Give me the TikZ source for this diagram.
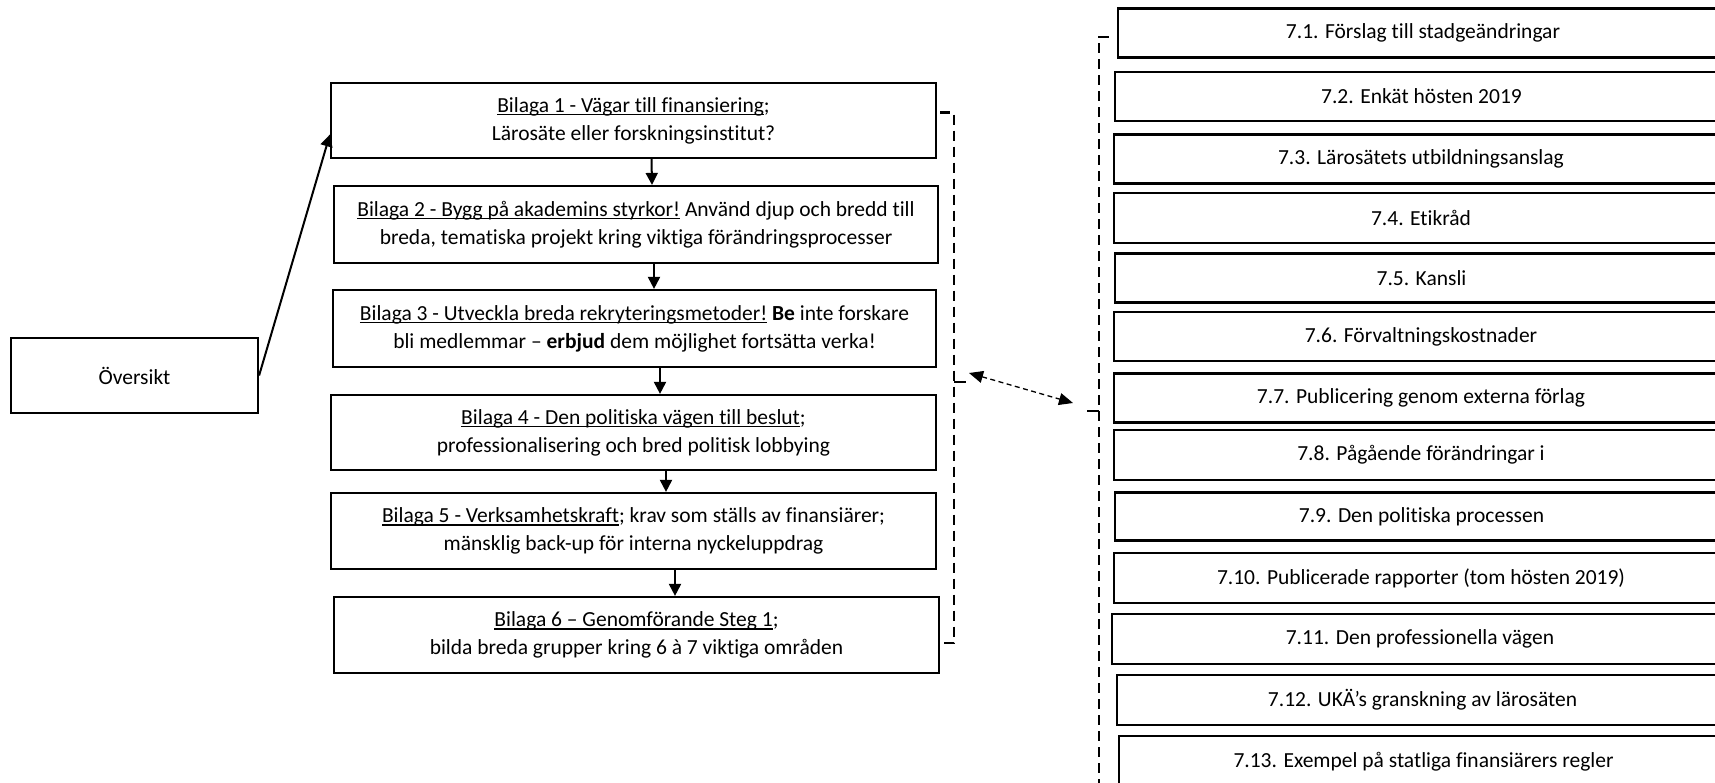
\documentclass[tikz,border=0pt]{standalone}
\usepackage{fontspec}
\setmainfont{Carlito}[Ligatures=NoCommon]
\usetikzlibrary{arrows.meta}
\newcommand\myul[1]{\setbox0\hbox{#1}\rlap{\rule[-3pt]{\wd0}{1.2pt}}\box0\relax}
\tikzset{
  box/.style={draw, line width=2.2pt, inner sep=0pt, align=center,
    font=\fontsize{21.5}{28}\selectfont},
  flow/.style={line width=2pt, -{Triangle[length=12pt,width=12pt]}},
  bracket/.style={line width=2.2pt, dash pattern=on 10pt off 6pt},
  dbl/.style={line width=1.3pt, dash pattern=on 5pt off 3.5pt,
    {Triangle[length=14pt,width=12pt]}-{Triangle[length=14pt,width=12pt]}}
}
\begin{document}
\begin{tikzpicture}[x=1pt,y=-1pt]
\useasboundingbox (0,0) rectangle (1715,783);
\clip (0,0) rectangle (1715,783);
% left column
\node[box, minimum width=247pt, minimum height=75pt] (ov) at (134.5,375.5) {Översikt};
\node[box, minimum width=605pt, minimum height=75pt] (b1) at (633.5,120.5)
  {\myul{Bilaga 1 - Vägar till finansiering};\\Lärosäte eller forskningsinstitut?};
\node[box, minimum width=604pt, minimum height=77pt] (b2) at (636,224.5)
  {\myul{Bilaga 2 - Bygg på akademins styrkor!} Använd djup och bredd till\\breda, tematiska projekt kring viktiga förändringsprocesser};
\node[box, minimum width=603pt, minimum height=77pt] (b3) at (634.5,328.5)
  {\myul{Bilaga 3 - Utveckla breda rekryteringsmetoder!} \textbf{Be} inte forskare\\bli medlemmar – \textbf{erbjud} dem möjlighet fortsätta verka!};
\node[box, minimum width=605pt, minimum height=75pt] (b4) at (633.5,432.5)
  {\myul{Bilaga 4 - Den politiska vägen till beslut};\\professionalisering och bred politisk lobbying};
\node[box, minimum width=605pt, minimum height=76pt] (b5) at (633.5,531)
  {\myul{Bilaga 5 - Verksamhetskraft}; krav som ställs av finansiärer;\\mänsklig back-up för interna nyckeluppdrag};
\node[box, minimum width=605pt, minimum height=76pt] (b6) at (636.5,635)
  {\myul{Bilaga 6 – Genomförande Steg 1};\\bilda breda grupper kring 6 à 7 viktiga områden};
% right column
\node[box, minimum width=610pt, minimum height=49pt] (r1) at (1423,33) {7.1. Förslag till stadgeändringar};
\node[box, minimum width=613pt, minimum height=49pt] (r2) at (1421.5,96.5) {7.2. Enkät hösten 2019};
\node[box, minimum width=614pt, minimum height=49pt] (r3) at (1421,159) {7.3. Lärosätets utbildningsanslag};
\node[box, minimum width=614pt, minimum height=50pt] (r4) at (1421,218) {7.4. Etikråd};
\node[box, minimum width=613pt, minimum height=49pt] (r5) at (1421.5,278) {7.5. Kansli};
\node[box, minimum width=614pt, minimum height=49pt] (r6) at (1421,336.5) {7.6. Förvaltningskostnader};
\node[box, minimum width=614pt, minimum height=49pt] (r7) at (1421,398) {7.7. Publicering genom externa förlag};
\node[box, minimum width=614pt, minimum height=50pt] (r8) at (1421,455) {7.8. Pågående förändringar i};
\node[box, minimum width=613pt, minimum height=48pt] (r9) at (1421.5,516.5) {7.9. Den politiska processen};
\node[box, minimum width=614pt, minimum height=50pt] (r10) at (1421,578) {7.10. Publicerade rapporter (tom hösten 2019)};
\node[box, minimum width=616pt, minimum height=50pt] (r11) at (1420,639) {7.11. Den professionella vägen};
\node[box, minimum width=611pt, minimum height=50pt] (r12) at (1422.5,700) {7.12. UKÄ’s granskning av lärosäten};
\node[box, minimum width=609pt, minimum height=52pt] (r13) at (1423.5,762) {7.13. Exempel på statliga finansiärers regler};
% flow arrows
\draw[flow] (ov.east) -- ([yshift=-14pt]b1.west);
\draw[flow] ([xshift=18pt]b1.south) -- ([xshift=16pt]b2.north);
\draw[flow] ([xshift=18pt]b2.south) -- ([xshift=19.5pt]b3.north);
\draw[flow] ([xshift=25.5pt]b3.south) -- ([xshift=26.5pt]b4.north);
\draw[flow] ([xshift=32.5pt]b4.south) -- ([xshift=32.5pt]b5.north);
\draw[flow] ([xshift=41.5pt]b5.south) -- ([xshift=38.5pt]b6.north);
% brackets
\coordinate (lbx) at (954,0);
\coordinate (lmid) at (954,382);
\coordinate (rtop) at (1099,37);
\coordinate (rbot) at (1099,790);
\coordinate (rmid) at (1099,411);
\draw[bracket] ([xshift=3pt,yshift=8pt]b1.east) -| ([yshift=-8pt]b6.east -| lbx) -- ([xshift=2pt,yshift=-8pt]b6.east);
\draw[bracket, dash pattern=on 12pt off 4pt] (lmid) -- ++(12,0);
\draw[bracket] ([xshift=-8pt,yshift=-4pt]r1.west) -- (rtop) -- (rbot) -- ++(10,0);
\draw[bracket, dash pattern=on 12pt off 4pt] (rmid) -- ++(-15,0);
% double arrow
\coordinate (ltip) at (969,373);
\coordinate (rtip) at (1073,403);
\draw[dbl] (ltip) -- (rtip);
\end{tikzpicture}
\end{document}
